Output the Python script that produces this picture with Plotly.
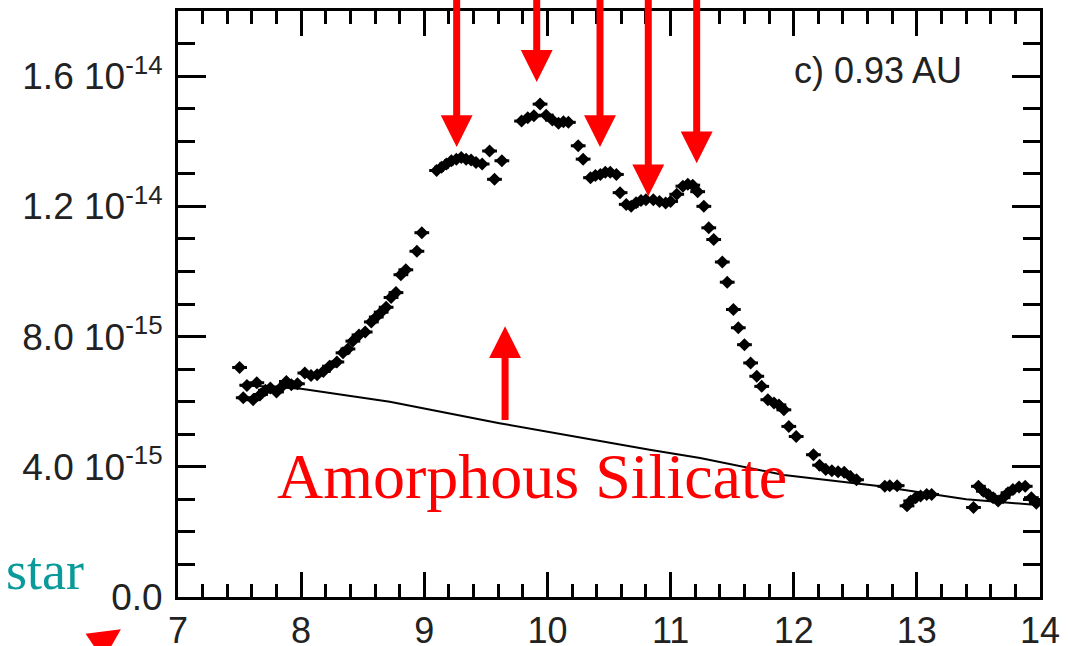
import numpy as np
import plotly.graph_objects as go

# ---------------- data ----------------
wavelength = [7.50, 7.53, 7.56, 7.61, 7.64, 7.67, 7.71, 7.75, 7.80, 7.84, 7.88, 7.92, 7.97,
              8.03, 8.08, 8.13, 8.18, 8.23, 8.29, 8.34, 8.38, 8.42, 8.47, 8.52, 8.57, 8.61,
              8.65, 8.69, 8.73, 8.77, 8.81, 8.85, 8.94, 8.98,
              9.10, 9.14, 9.18, 9.22, 9.26, 9.30, 9.34, 9.38, 9.42, 9.47, 9.53, 9.57, 9.63,
              9.79, 9.84, 9.89, 9.94, 9.99, 10.04, 10.09, 10.13, 10.17,
              10.25, 10.29, 10.35, 10.39, 10.43, 10.47, 10.51, 10.56, 10.59, 10.64, 10.68,
              10.72, 10.76, 10.80, 10.86, 10.91, 10.96, 11.00, 11.05, 11.10, 11.14, 11.18,
              11.22, 11.27, 11.31, 11.35, 11.42, 11.46, 11.51, 11.55, 11.60, 11.65, 11.70,
              11.74, 11.79, 11.84, 11.88, 11.92, 11.96, 12.02, 12.16, 12.21, 12.26, 12.31,
              12.36, 12.41, 12.46, 12.51, 12.74, 12.78, 12.84, 12.92, 12.95, 12.99, 13.03,
              13.08, 13.12, 13.46, 13.50, 13.54, 13.58, 13.62, 13.66, 13.70, 13.74, 13.78,
              13.83, 13.88, 13.93, 13.97]
flux_e15 = [7.05, 6.12, 6.50, 6.06, 6.58, 6.22, 6.35, 6.42, 6.30, 6.45, 6.62, 6.52, 6.55,
            6.88, 6.80, 6.83, 6.93, 7.09, 7.22, 7.50, 7.62, 7.86, 8.05, 8.14, 8.45, 8.60,
            8.75, 8.90, 9.20, 9.35, 9.90, 10.05, 10.62, 11.19,
            13.10, 13.20, 13.30, 13.40, 13.45, 13.50, 13.45, 13.42, 13.35, 13.30, 13.70, 12.83, 13.40,
            14.62, 14.72, 14.78, 15.14, 14.80, 14.65, 14.55, 14.60, 14.58,
            13.86, 13.45, 12.88, 12.95, 12.98, 13.05, 13.05, 12.98, 12.42, 12.06, 12.00,
            12.11, 12.18, 12.20, 12.20, 12.15, 12.10, 12.15, 12.37, 12.62, 12.68, 12.65,
            12.45, 12.00, 11.34, 10.98, 10.29, 9.67, 8.83, 8.27, 7.75, 7.19, 6.78,
            6.47, 6.06, 5.96, 5.90, 5.75, 5.24, 4.93, 4.37, 4.05, 3.92, 3.88,
            3.85, 3.83, 3.70, 3.60, 3.40, 3.42, 3.42, 2.80, 2.95, 3.05, 3.10,
            3.15, 3.15, 2.75, 3.40, 3.25, 3.15, 3.05, 2.95, 3.05, 3.20, 3.30,
            3.38, 3.40, 3.05, 2.88]

continuum_wl = [7.50, 8.00, 8.72, 9.61, 10.83, 11.24, 11.92, 12.67, 13.40, 14.00]
continuum_e15 = [6.52, 6.40, 6.00, 5.34, 4.52, 4.27, 3.75, 3.42, 3.00, 2.82]

y_tickvals_e15 = [0, 4, 8, 12, 16]
y_ticktext = ["0.0", "4.0 10<sup>-15</sup>", "8.0 10<sup>-15</sup>",
              "1.2 10<sup>-14</sup>", "1.6 10<sup>-14</sup>"]
x_tickvals = [7, 8, 9, 10, 11, 12, 13, 14]

# feature arrows (wavelength, tip flux in 1e-15)
feature_arrow_x = [9.263, 9.913, 10.427, 10.819, 11.212]
feature_arrow_tip = [13.82, 15.82, 13.82, 12.31, 13.32]
silicate_arrow = dict(x=9.656, base=5.39, tip=8.32)

E = 1e-15
flux = np.array(flux_e15) * E
cont = np.array(continuum_e15) * E

RED = "#ff0000"

fig = go.Figure()
fig.add_trace(go.Scatter(
    x=continuum_wl, y=cont, mode="lines",
    line=dict(color="black", width=2), showlegend=False, hoverinfo="skip"))
fig.add_trace(go.Scatter(
    x=wavelength, y=flux, mode="markers",
    marker=dict(symbol="diamond", size=10, color="black"),
    error_x=dict(type="constant", value=0.06, color="black", thickness=3, width=0),
    showlegend=False))

axis_common = dict(
    showline=True, linecolor="black", linewidth=3, mirror="ticks",
    ticks="inside", tickcolor="black", showgrid=False, zeroline=False,
    automargin=False,
)
fig.update_xaxes(range=[7, 14], tickvals=x_tickvals, ticklen=25, tickwidth=3,
                 tickfont=dict(family="Liberation Sans, Arial", size=36, color="#222"),
                 minor=dict(dtick=0.2, tick0=7, ticklen=13, tickwidth=3, ticks="inside",
                            tickcolor="black", showgrid=False),
                 **axis_common)
fig.update_yaxes(range=[0, 18 * E], tickvals=[v * E for v in y_tickvals_e15],
                 ticktext=y_ticktext, ticklen=28, tickwidth=3, ticklabelstandoff=5,
                 tickfont=dict(family="Liberation Sans, Arial", size=37, color="#222"),
                 minor=dict(dtick=1 * E, tick0=0, ticklen=17, tickwidth=3, ticks="inside",
                            tickcolor="black", showgrid=False),
                 **axis_common)

annotations = []
for xa, tip in zip(feature_arrow_x, feature_arrow_tip):
    annotations.append(dict(
        x=xa, y=tip * E, ax=xa, ay=20 * E, xref="x", yref="y", axref="x", ayref="y",
        showarrow=True, arrowhead=2, arrowsize=0.91, arrowwidth=7, arrowcolor=RED,
        standoff=0, text=""))
annotations.append(dict(
    x=silicate_arrow["x"], y=silicate_arrow["tip"] * E,
    ax=silicate_arrow["x"], ay=silicate_arrow["base"] * E,
    xref="x", yref="y", axref="x", ayref="y",
    showarrow=True, arrowhead=2, arrowsize=0.91, arrowwidth=7, arrowcolor=RED,
    standoff=0, text=""))
annotations.append(dict(
    x=7.788, y=3.70 * E, xref="x", yref="y", xanchor="left", yanchor="middle",
    text="Amorphous Silicate", showarrow=False,
    font=dict(family="Liberation Serif, Times New Roman", size=64, color=RED)))
annotations.append(dict(
    x=0.812, y=0.899, xref="paper", yref="paper", xanchor="center", yanchor="middle",
    text="c) 0.93 AU", showarrow=False,
    font=dict(family="Liberation Sans, Arial", size=36, color="#222")))
annotations.append(dict(
    x=-0.107, y=0.045, xref="paper", yref="paper", xanchor="right", yanchor="middle",
    text="star", showarrow=False,
    font=dict(family="Liberation Serif, Times New Roman", size=54, color="#0a9a9a")))
annotations.append(dict(
    x=-0.0662, y=-0.055, xref="paper", yref="paper", ax=-25, ay=45,
    showarrow=True, arrowhead=2, arrowsize=0.91, arrowwidth=7, arrowcolor=RED,
    standoff=0, text=""))
fig.update_layout(annotations=annotations)

fig.update_layout(
    width=1068, height=646,
    margin=dict(l=178, r=28, t=11, b=49),
    paper_bgcolor="white", plot_bgcolor="white",
)

fig.write_html("out.html")
